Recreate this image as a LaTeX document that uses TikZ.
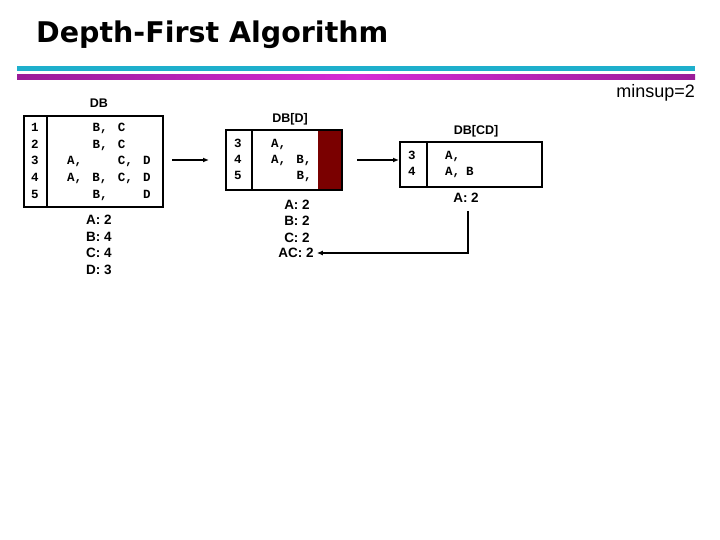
\documentclass[tikz,border=0pt]{standalone}
\usepackage{fontspec}
\setmainfont{Liberation Sans}
\newfontfamily\monof{Liberation Mono}
\newfontfamily\titlef{DejaVu Sans}
\usetikzlibrary{arrows.meta}
\definecolor{cyanline}{HTML}{1EAFCC}
\definecolor{magmid}{HTML}{D52CD5}
\definecolor{magedge}{HTML}{9A1C98}
\definecolor{maroon}{HTML}{7A0000}
\newcommand{\cl}[1]{\makebox[25.3pt][l]{#1}}
\newcommand{\cls}[1]{\makebox[21pt][l]{#1}}
\tikzset{
  lbl/.style={font=\bfseries\fontsize{12.5}{15}\selectfont, inner sep=0pt},
  cnt/.style={font=\bfseries\fontsize{13.5}{15}\selectfont, inner sep=0pt},
  mono/.style={font=\monof\bfseries\fontsize{12.5}{14}\selectfont, inner sep=0pt, anchor=west, text height=8pt, text depth=0pt},
  tbl/.style={draw=black, line width=2.2pt},
  arr/.style={-{Latex[length=6pt,width=5pt]}, line width=1.5pt}
}
\begin{document}
\begin{tikzpicture}[x=1pt,y=-1pt]
\useasboundingbox (0,0) rectangle (720,540);
% title
\node[font=\titlef\bfseries\fontsize{28.5}{32}\selectfont, anchor=base west, inner sep=0pt] (title) at (36,43) {Depth-First Algorithm};
\fill[cyanline] (17,66) rectangle (695,71);
\shade[left color=magedge, right color=magedge, middle color=magmid] (17,75) rectangle (695,79.5);
\node[font=\fontsize{18}{20}\selectfont, inner sep=0pt, anchor=east] (minsup) at (695,93) {minsup=2};

% DB
\node[lbl] (dbl) at (99,103) {DB};
\draw[tbl] (24,116) rectangle (163,207);
\draw[tbl] (47,116) -- (47,207);
\node[mono] (n1) at (31,128) {1};
\node[mono] (n2) at (31,145) {2};
\node[mono] (n3) at (31,161) {3};
\node[mono] (n4) at (31,178) {4};
\node[mono] (n5) at (31,195) {5};
\node[mono] (r1) at (67,128) {\cl{}\cl{B,}\cl{C}};
\node[mono] (r2) at (67,145) {\cl{}\cl{B,}\cl{C}};
\node[mono] (r3) at (67,161) {\cl{A,}\cl{}\cl{C,}\cl{D}};
\node[mono] (r4) at (67,178) {\cl{A,}\cl{B,}\cl{C,}\cl{D}};
\node[mono] (r5) at (67,195) {\cl{}\cl{B,}\cl{}\cl{D}};
\node[cnt] (ca) at (99,220) {A: 2};
\node[cnt] (cb) at (99,237) {B: 4};
\node[cnt] (cc) at (99,253) {C: 4};
\node[cnt] (cd) at (99,270) {D: 3};

\coordinate (a1s) at (172,160);
\coordinate (a1e) at (209,160);
\draw[arr] (a1s) -- (a1e);

% DB[D]
\node[lbl] (dbdl) at (290,119) {DB[D]};
\fill[maroon] (318,130) rectangle (342,190);
\draw[tbl] (226,130) rectangle (342,190);
\draw[tbl] (252,130) -- (252,190);
\node[mono] (d3) at (234,144) {3};
\node[mono] (d4) at (234,160) {4};
\node[mono] (d5) at (234,176) {5};
\node[mono] (dr3) at (271,144) {\cl{A,}};
\node[mono] (dr4) at (271,160) {\cl{A,}\cl{B,}};
\node[mono] (dr5) at (271,176) {\cl{}\cl{B,}};
\node[cnt] (dca) at (297,205) {A: 2};
\node[cnt] (dcb) at (297,221) {B: 2};
\node[cnt] (dcc) at (297,238) {C: 2};
\node[cnt] (dcac) at (296,253) {AC: 2};

\coordinate (a2s) at (357,160);
\coordinate (a2e) at (399,160);
\draw[arr] (a2s) -- (a2e);

% DB[CD]
\node[lbl] (dbcdl) at (476,131) {DB[CD]};
\draw[tbl] (400,142) rectangle (542,187);
\draw[tbl] (427,142) -- (427,187);
\node[mono] (c3) at (408,156) {3};
\node[mono] (c4) at (408,172) {4};
\node[mono] (cr3) at (445,156) {\cls{A,}};
\node[mono] (cr4) at (445,172) {\cls{A,}\cls{B}};
\node[cnt] (cca) at (466,198) {A: 2};

\coordinate (fb) at (468,211);
\draw[arr] (fb) |- ([xshift=3pt]dcac.east);
\end{tikzpicture}
\end{document}
